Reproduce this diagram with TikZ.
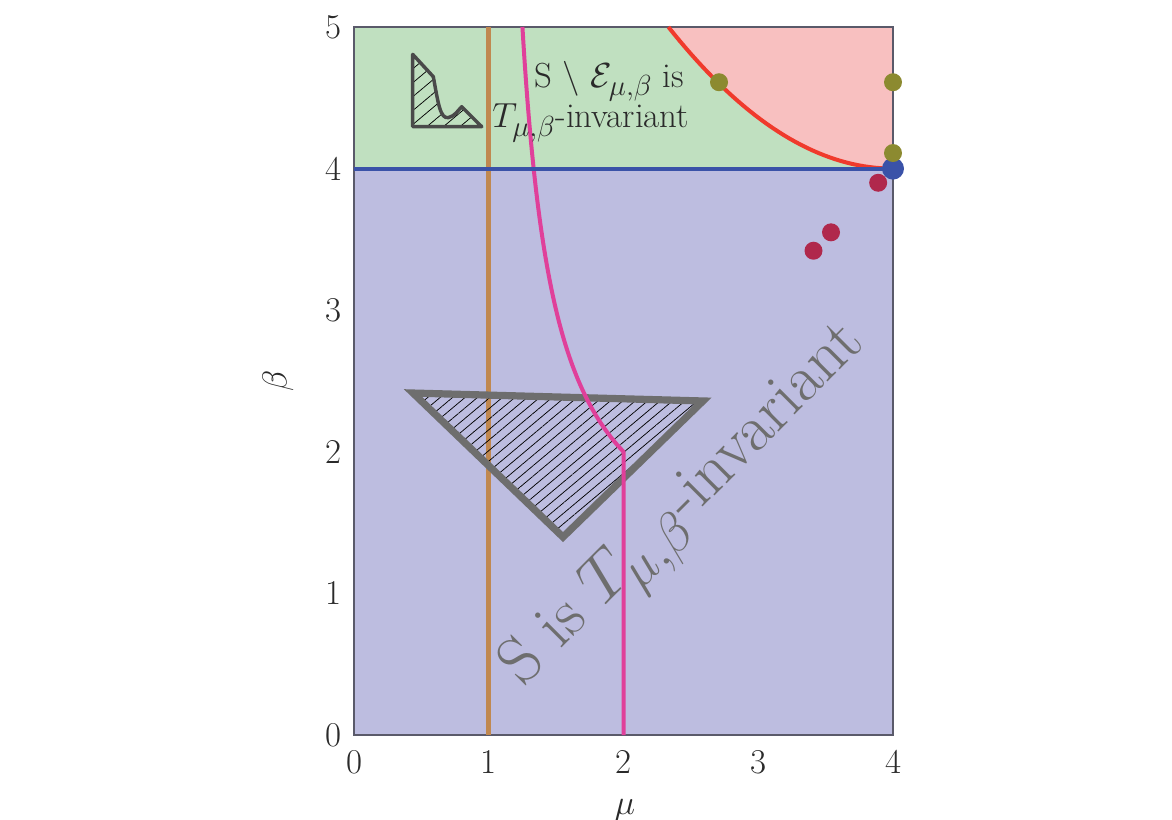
\documentclass[tikz,border=0pt]{standalone}
\usetikzlibrary{patterns.meta}
\definecolor{zonelow}{HTML}{BDBDE0}
\definecolor{zonemid}{HTML}{C0E0C0}
\definecolor{zonetop}{HTML}{F8C0C0}
\definecolor{frameline}{HTML}{5A5A6A}
\definecolor{muline}{HTML}{C08850}
\definecolor{bendline}{HTML}{E0409A}
\definecolor{edgeline}{HTML}{F03A2C}
\definecolor{levline}{HTML}{3A52A8}
\definecolor{olivedot}{HTML}{8C8A30}
\definecolor{cycdot}{HTML}{B0284C}
\definecolor{triangray}{HTML}{6E6E6E}
\definecolor{icongray}{HTML}{4A4A4A}
\definecolor{ink}{HTML}{2A2A2A}
\newcommand{\ticksize}{\fontsize{24.88}{30}\selectfont}
\newcommand{\labsize}{\fontsize{24.88}{31}\selectfont}
\begin{document}
\begin{tikzpicture}[x=101.06pt,y=106.2pt,
  ticklab/.style={inner sep=0,text=ink,font=\ticksize,scale=1.05},
  zonelab/.style={anchor=base west,inner sep=0,text=ink,font=\labsize,scale=1.05},
  hatchfill/.style={pattern={Lines[angle=40,distance=6pt,line width=0.55pt]},pattern color=black},
  iconfill/.style={pattern={Lines[angle=40,distance=8pt,line width=0.55pt]},pattern color=black},
  dotmark/.style={circle,inner sep=0,minimum size=13.5pt}]
\useasboundingbox (-2.6271,-0.5932) rectangle (6.0705,5.1907);
\fill[zonelow] (0,0) rectangle (4,4);
\fill[zonemid] (0,4) rectangle (4,5);
\fill[zonetop] (2.3333,5) -- plot[domain=2.3333:4,samples=40] (\x,{4+0.36*(4-\x)^2}) -- (4,5) -- cycle;
\draw[frameline,line width=1.1pt] (0,0) rectangle (4,5);
\draw[muline,line width=3.6pt] (1,0) -- (1,5);
\fill[hatchfill] (0.438,2.415) -- (2.590,2.359) -- (1.551,1.398) -- cycle;
\draw[triangray,line width=5.4pt,line join=miter] (0.438,2.415) -- (2.590,2.359) -- (1.551,1.398) -- cycle;
\draw[bendline,line width=3pt,line join=round] (2,0) -- (2,2) -- plot[domain=2:5,samples=60] ({\x/(\x-1)},\x);
\draw[edgeline,line width=3pt] plot[domain=2.3333:4,samples=40] (\x,{4+0.36*(4-\x)^2});
\draw[levline,line width=3pt] (0,4) -- (4,4);
\filldraw[iconfill,draw=icongray,line width=2.6pt,line join=round]
  (0.4356,4.807) -- (0.5885,4.649) .. controls (0.625,4.46) and (0.64,4.35) .. (0.70,4.36)
  .. controls (0.75,4.37) and (0.77,4.41) .. (0.799,4.437) -- (0.948,4.296) -- (0.4356,4.296) -- cycle;
\node[dotmark,fill=levline,minimum size=16.5pt] (p4) at (4,4) {};
\node[dotmark,fill=olivedot] (q1) at (2.709,4.61) {};
\node[dotmark,fill=olivedot] (q2) at (4,4.61) {};
\node[dotmark,fill=olivedot] (q3) at (4,4.11) {};
\node[dotmark,fill=cycdot] (c1) at (3.89,3.90) {};
\node[dotmark,fill=cycdot] (c2) at (3.54,3.55) {};
\node[dotmark,fill=cycdot] (c3) at (3.41,3.42) {};
\node[zonelab] (setlab) at (1.336,4.576) {S $\setminus$ $\mathcal{E}_{\mu,\beta}$ is};
\node[zonelab] (invlab) at (1.024,4.287) {$T_{\mu,\beta}$-invariant};
\node[anchor=base west,inner sep=0,rotate=45,scale=1.98,text=triangray,font=\labsize] (biglab) at (1.253,0.335) {S is $T_{\mu,\beta}$-invariant};
\foreach \i in {0,...,4}
  \node[ticklab] (xt\i) at (\i,-0.19) {\i};
\foreach \i in {0,...,5}
  \node[ticklab,anchor=east] (yt\i) at (-0.089,\i) {\i};
\node[ticklab] (mulab) at (2.011,-0.53) {$\mu$};
\node[ticklab,rotate=90] (betalab) at (-0.564,2.5) {$\beta$};
\end{tikzpicture}
\end{document}
